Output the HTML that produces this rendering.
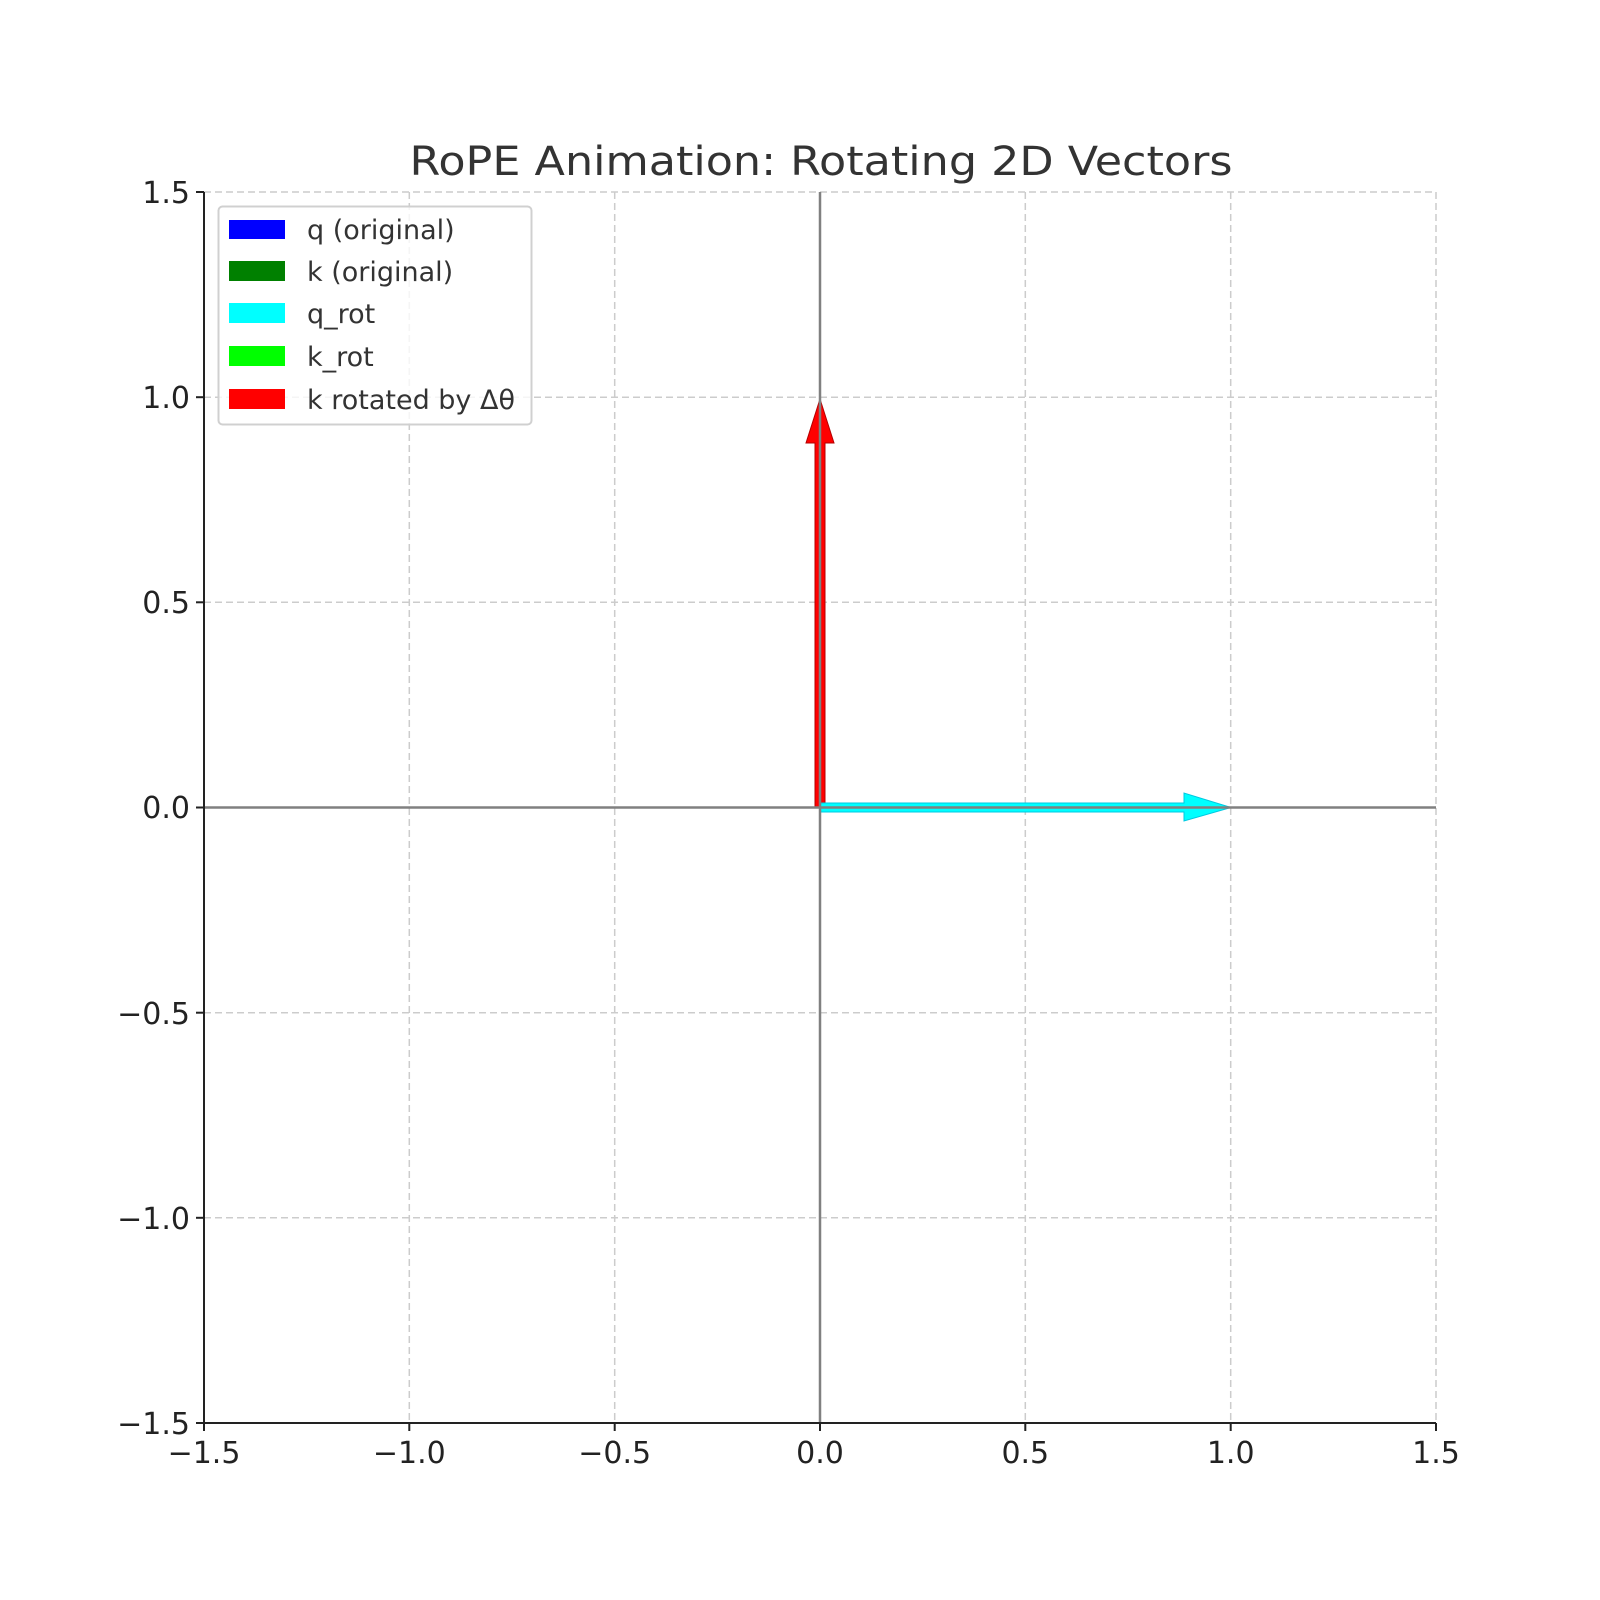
<!DOCTYPE html>
<html><head><meta charset="utf-8"><style>body{margin:0;background:#fff}svg{display:block}</style></head>
<body>
<svg width="1600" height="1600" viewBox="0 0 1600 1600" xmlns="http://www.w3.org/2000/svg" font-family="DejaVu Sans, Liberation Sans, sans-serif">
<rect width="1600" height="1600" fill="#fff"/>
<text x="821" y="175" font-size="40" fill="#333" text-anchor="middle" textLength="823" lengthAdjust="spacingAndGlyphs">RoPE Animation: Rotating 2D Vectors</text>
<g stroke="#cccccc" stroke-width="1.5" stroke-dasharray="7,4" fill="none">
<line x1="409.3" y1="192" x2="409.3" y2="1423"/>
<line x1="614.7" y1="192" x2="614.7" y2="1423"/>
<line x1="820" y1="192" x2="820" y2="1423"/>
<line x1="1025.3" y1="192" x2="1025.3" y2="1423"/>
<line x1="1230.7" y1="192" x2="1230.7" y2="1423"/>
<line x1="1436" y1="192" x2="1436" y2="1423"/>
<line x1="204" y1="192" x2="1436" y2="192"/>
<line x1="204" y1="397.2" x2="1436" y2="397.2"/>
<line x1="204" y1="602.3" x2="1436" y2="602.3"/>
<line x1="204" y1="807.5" x2="1436" y2="807.5"/>
<line x1="204" y1="1012.7" x2="1436" y2="1012.7"/>
<line x1="204" y1="1217.8" x2="1436" y2="1217.8"/>
</g>
<polygon points="815,807.5 815,443 806,443 820,399 834,443 825,443 825,807.5" fill="#ff0000" stroke="#b30000" stroke-width="1"/>
<polygon points="820,803 1184,803 1184,793 1231,807.5 1184,821 1184,812 820,812" fill="#00ffff" stroke="#00c8e0" stroke-width="1"/>
<line x1="204" y1="807.5" x2="1436" y2="807.5" stroke="#808080" stroke-width="2.5"/>
<line x1="820" y1="192" x2="820" y2="1423" stroke="#808080" stroke-width="2.5"/>
<line x1="204" y1="192" x2="204" y2="1424" stroke="#222" stroke-width="2"/>
<line x1="203" y1="1423" x2="1436" y2="1423" stroke="#222" stroke-width="2"/>
<g stroke="#222" stroke-width="2">
<line x1="196" y1="192" x2="204" y2="192"/><line x1="196" y1="397.2" x2="204" y2="397.2"/><line x1="196" y1="602.3" x2="204" y2="602.3"/><line x1="196" y1="807.5" x2="204" y2="807.5"/><line x1="196" y1="1012.7" x2="204" y2="1012.7"/><line x1="196" y1="1217.8" x2="204" y2="1217.8"/><line x1="196" y1="1423" x2="204" y2="1423"/>
<line x1="204" y1="1423" x2="204" y2="1431"/><line x1="409.3" y1="1423" x2="409.3" y2="1431"/><line x1="614.7" y1="1423" x2="614.7" y2="1431"/><line x1="820" y1="1423" x2="820" y2="1431"/><line x1="1025.3" y1="1423" x2="1025.3" y2="1431"/><line x1="1230.7" y1="1423" x2="1230.7" y2="1431"/><line x1="1436" y1="1423" x2="1436" y2="1431"/>
</g>
<g font-size="30" fill="#222" text-anchor="end">
<text x="190" y="203">1.5</text><text x="190" y="408">1.0</text><text x="190" y="613">0.5</text><text x="190" y="818">0.0</text><text x="190" y="1024">−0.5</text><text x="190" y="1229">−1.0</text><text x="190" y="1434">−1.5</text>
</g>
<g font-size="30" fill="#222" text-anchor="middle">
<text x="204" y="1463">−1.5</text><text x="409.3" y="1463">−1.0</text><text x="614.7" y="1463">−0.5</text><text x="820" y="1463">0.0</text><text x="1025.3" y="1463">0.5</text><text x="1230.7" y="1463">1.0</text><text x="1436" y="1463">1.5</text>
</g>
<rect x="218.5" y="206.5" width="313" height="218" rx="4" fill="#fff" fill-opacity="0.8" stroke="#d0d0d0" stroke-width="2"/>
<rect x="229" y="220" width="56" height="19" fill="#0000ff"/>
<rect x="229" y="261" width="56" height="20" fill="#008000"/>
<rect x="229" y="303" width="56" height="20" fill="#00ffff"/>
<rect x="229" y="346" width="56" height="20" fill="#00ff00"/>
<rect x="229" y="389" width="56" height="20" fill="#ff0000"/>
<g font-size="27" fill="#333">
<text x="307" y="239">q (original)</text>
<text x="307" y="281">k (original)</text>
<text x="307" y="323">q_rot</text>
<text x="307" y="366">k_rot</text>
<text x="307" y="409">k rotated by Δθ</text>
</g>
</svg>
</body></html>
